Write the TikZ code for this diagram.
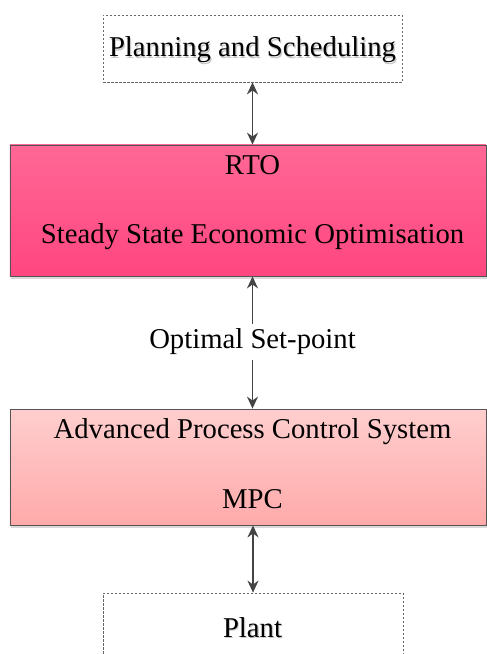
\documentclass[tikz,border=0pt]{standalone}
\usepackage{fontspec}
\setmainfont{Liberation Serif}
\usetikzlibrary{arrows.meta,shadows}
\definecolor{rtotop}{RGB}{255,104,150}
\definecolor{rtobot}{RGB}{255,70,128}
\definecolor{apctop}{RGB}{255,206,206}
\definecolor{apcbot}{RGB}{255,170,170}
\definecolor{edgegray}{RGB}{85,85,85}
\definecolor{arrgray}{RGB}{68,68,68}
\newcommand\shtext[1]{\makebox[0pt][l]{\kern1.2bp\raisebox{-1.2bp}{\color{black!22}#1}}#1}
\begin{document}
\begin{tikzpicture}[x=1bp,y=-1bp,
  box/.style={draw=edgegray, line width=0.8bp, rectangle, inner sep=0pt,
    drop shadow={shadow xshift=1.5bp, shadow yshift=-3bp, fill=black!15, opacity=1}},
  dashbox/.style={draw=black!60, dash pattern=on 2.5bp off 1.5bp, line width=0.7bp,
    rectangle, inner sep=0pt, fill=white},
  lbl/.style={font=\fontsize{28.7bp}{34bp}\selectfont, anchor=base, inner sep=0pt},
  link/.style={draw=arrgray, line width=1.7bp,
    {Stealth[length=12bp,width=11bp]}-{Stealth[length=12bp,width=11bp]}},
  half/.style={draw=arrgray, line width=1.7bp, -{Stealth[length=12bp,width=11bp]}}]
\useasboundingbox (0,0) rectangle (487,654);
\clip (0,0) rectangle (487,654);
% boxes
\node[dashbox, minimum width=299bp, minimum height=67bp] (plan) at (252.5,48.5) {};
\node[box, minimum width=476bp, minimum height=131bp, top color=rtotop, bottom color=rtobot] (rto) at (248,210.5) {};
\node[box, minimum width=476bp, minimum height=116bp, top color=apctop, bottom color=apcbot] (apc) at (248,467) {};
\node[dashbox, minimum width=300bp, minimum height=90bp] (plant) at (253,638) {};
% texts
\node[lbl] (plantxt) at (252.5,57) {\shtext{Planning and Scheduling}};
\node[lbl] (rtoa) at (252.5,174) {RTO};
\node[lbl] (rtob) at (252.5,243) {Steady State Economic Optimisation};
\node[font=\fontsize{28.7bp}{34bp}\selectfont, inner sep=0pt, minimum height=36bp] (sp) at (252.5,342) {Optimal Set-point};
\node[lbl] (apca) at (252.5,438) {Advanced Process Control System};
\node[lbl] (apcb) at (252.5,508) {MPC};
\node[lbl] (planttxt) at (252.5,637) {\shtext{Plant}};
% connectors
\draw[link] (plan.south) -- (plan.south |- rto.north);
\draw[half] (sp.north) -- (sp.north |- rto.south);
\draw[half] (sp.south) -- (sp.south |- apc.north);
\draw[link] (apc.south -| plant.north) -- (plant.north);
\end{tikzpicture}
\end{document}
